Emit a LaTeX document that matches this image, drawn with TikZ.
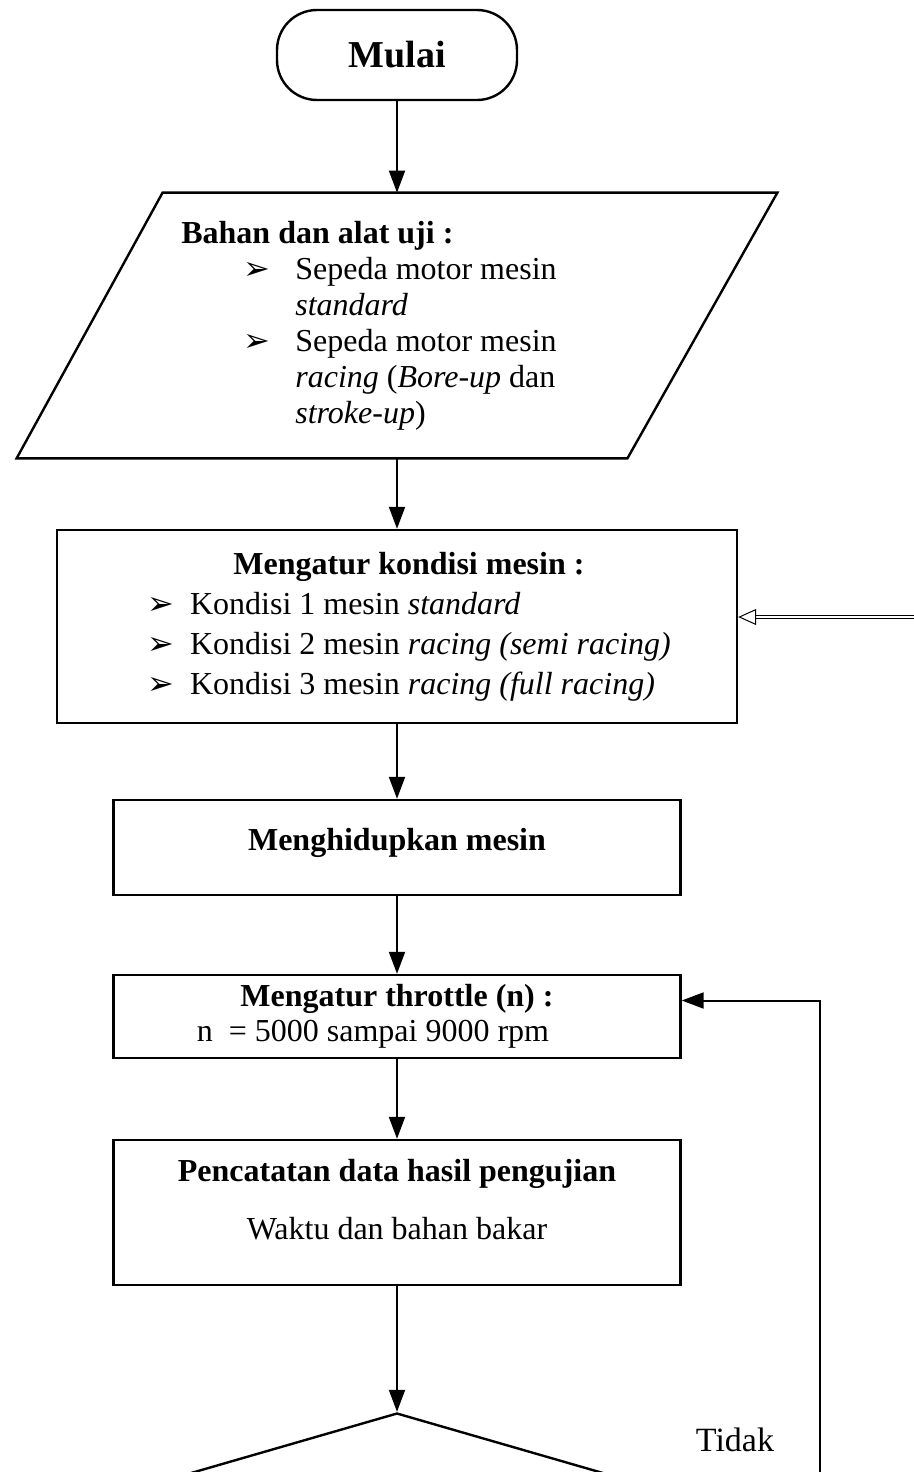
\documentclass[tikz,border=0pt]{standalone}
\usepackage{fontspec}
\setmainfont{Liberation Serif}
\newfontfamily\symfont{DejaVu Sans}
\usetikzlibrary{arrows.meta,shapes.geometric}
\newcommand{\bul}{{\symfont\fontsize{16}{16}\selectfont\char"27A2}}
\begin{document}
\begin{tikzpicture}[x=0.5pt,y=-0.5pt,
    every node/.style={font=\fontsize{16}{20}\selectfont},
    kotak/.style={draw,line width=1.2pt,minimum width=283.5pt,align=center,inner sep=0pt},
    panah/.style={line width=1pt,-{Triangle[length=11pt,width=8pt]}}]
    \useasboundingbox (0,0) rectangle (914,1472);
    \clip (0,0) rectangle (914,1472);
    \node[draw,line width=1.2pt,rounded corners=20pt,minimum width=120pt,minimum height=45pt,font=\fontsize{19}{22}\selectfont\bfseries] (mulai) at (397,55) {Mulai};
    \node[minimum width=306pt,minimum height=132.5pt,inner sep=0pt] (bahan) at (397,325.5) {\begin{tabular}{@{}l@{}}
        \textbf{Bahan dan alat uji :}\\[-2pt]
        \hspace*{31pt}\makebox[26pt][l]{\bul}Sepeda motor mesin\\[-2pt]
        \hspace*{57pt}\textit{standard}\\[-2pt]
        \hspace*{31pt}\makebox[26pt][l]{\bul}Sepeda motor mesin\\[-2pt]
        \hspace*{57pt}\textit{racing} (\textit{Bore-up} dan\\[-2pt]
        \hspace*{57pt}\textit{stroke-up})\rule[-5pt]{0pt}{5pt}
        \end{tabular}\hspace*{28pt}};
    \draw[line width=1.2pt] ([xshift=36pt]bahan.north west) -- ([xshift=37pt]bahan.north east) -- ([xshift=-38pt]bahan.south east) -- ([xshift=-37pt]bahan.south west) -- cycle;
    \node[kotak,minimum width=340pt,minimum height=96.5pt] (kondisi) at (397,626.5) {\hspace*{12pt}\begin{tabular}{@{}l@{}l@{}}
        \multicolumn{2}{c}{\textbf{Mengatur kondisi mesin :}}\\
        \makebox[21.5pt][l]{\bul} & Kondisi 1 mesin \textit{standard}\\
        \makebox[21.5pt][l]{\bul} & Kondisi 2 mesin \textit{racing (semi racing)}\\
        \makebox[21.5pt][l]{\bul} & Kondisi 3 mesin \textit{racing (full racing)}\rule[-4pt]{0pt}{4pt}
        \end{tabular}};
    \node[kotak,minimum height=47.5pt,font=\fontsize{16}{20}\selectfont\bfseries] (hidup) at (397,847.5) {Menghidupkan mesin\rule[-8pt]{0pt}{8pt}};
    \node[kotak,minimum height=41.5pt] (throttle) at (397,1016.5) {\textbf{Mengatur throttle (n) :}\\[-2.5pt]
        n~~= 5000 sampai 9000 rpm\hspace*{24pt}};
    \node[kotak,minimum height=72.5pt] (catat) at (397,1212.5) {\textbf{Pencatatan data hasil pengujian}\\[9pt]
        Waktu dan bahan bakar\rule[-13pt]{0pt}{13pt}};
    \node[draw,diamond,line width=1.2pt,minimum width=414pt,minimum height=120pt,inner sep=0pt] (cek) at (397,1533) {};
    \node[font=\fontsize{17}{20}\selectfont] (tidak) at (735,1440) {Tidak};
    \coordinate (masuk) at (914,617);
    \coordinate (balik) at (820,1472);
    % alur utama
    \draw[panah] (mulai.south) -- (bahan.north);
    \draw[panah] (bahan.south) -- (kondisi.north);
    \draw[panah] (kondisi.south) -- (hidup.north);
    \draw[panah] (hidup.south) -- (throttle.north);
    \draw[panah] (throttle.south) -- (catat.north);
    \draw[panah] (catat.south) -- (cek.north);
    % kembali
    \draw[panah] (balik) |- ([yshift=8pt]throttle.east);
    \draw[line width=0.5pt,double distance=1.2pt,-{Triangle[open,length=9pt,width=8pt]}] (masuk) -- (masuk -| kondisi.east);
\end{tikzpicture}
\end{document}
